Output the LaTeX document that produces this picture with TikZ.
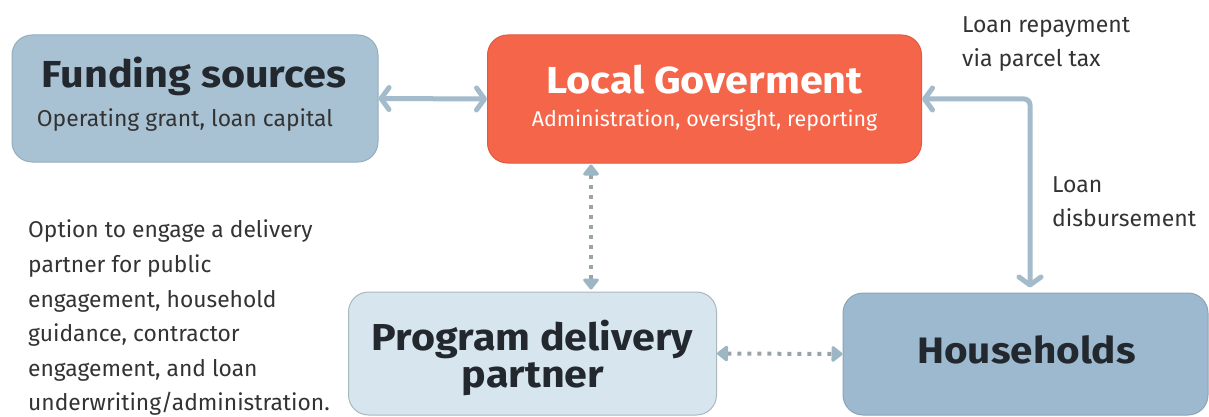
\documentclass[tikz,border=0pt]{standalone}
\usepackage{fontspec}
\setmainfont{Fira Sans}
\newfontfamily\headfont[FakeStretch=1.1]{Fira Sans}
\usetikzlibrary{arrows.meta}
\definecolor{fundc}{HTML}{A8C2D4}
\definecolor{fundb}{HTML}{94AEBE}
\definecolor{locc}{HTML}{F4654A}
\definecolor{locb}{HTML}{E05A42}
\definecolor{progc}{HTML}{D6E5EE}
\definecolor{progb}{HTML}{A9B7BF}
\definecolor{hhc}{HTML}{9CB9CF}
\definecolor{hhb}{HTML}{8CA4B5}
\definecolor{headtxt}{HTML}{22282D}
\definecolor{bodytxt}{HTML}{333333}
\definecolor{arrc}{HTML}{A3BBCB}
\definecolor{dotc}{HTML}{9AA3A8}
\definecolor{tric}{HTML}{9DB6C4}
\begin{document}
\begin{tikzpicture}[x=1pt,y=-1pt,
  box/.style={rectangle, rounded corners=20pt, line width=1pt, inner sep=0pt},
  headtext/.style={anchor=base, inner sep=0pt, text=headtxt, font=\headfont\fontsize{37.6}{44}\selectfont\bfseries},
  subtext/.style={anchor=base, inner sep=0pt, text=bodytxt, font=\fontsize{22.9}{27}\selectfont},
  notetext/.style={anchor=north west, inner sep=0pt, align=left, text=bodytxt, font=\fontsize{22.8}{34.6}\selectfont},
  solidarr/.style={draw=arrc, line width=5pt, {Straight Barb[length=8pt,width=22pt,round]}-{Straight Barb[length=8pt,width=22pt,round]}},
  dotarr/.style={draw=dotc, line width=4pt, dash pattern=on 4pt off 6pt, {Triangle[length=12pt,width=18pt,round,color=tric,fill=tric]}-{Triangle[length=12pt,width=18pt,round,color=tric,fill=tric]}}
]
\useasboundingbox (0,0) rectangle (1209,417);
% boxes
\node[box, fill=fundc, draw=fundb, minimum width=366pt, minimum height=127pt] (fund) at (195,98.5) {};
\node[box, fill=locc, draw=locb, minimum width=434pt, minimum height=128pt] (loc) at (704.5,99) {};
\node[box, fill=progc, draw=progb, minimum width=368pt, minimum height=123pt] (prog) at (532.5,353.5) {};
\node[box, fill=hhc, draw=hhb, minimum width=365pt, minimum height=122pt] (hh) at (1025.5,354) {};
% texts in boxes
\node[headtext] (fundh) at (194,88) {Funding sources};
\node[subtext] (funds) at (185,126) {Operating grant, loan capital};
\node[headtext, text=white] (loch) at (704.5,94) {Local Goverment};
\node[subtext, text=white, font=\fontsize{21.4}{26}\selectfont] (locs) at (704.5,126) {Administration, oversight, reporting};
\node[headtext, font=\headfont\fontsize{37.5}{44}\selectfont\bfseries] (progh) at (532.5,350) {Program delivery};
\node[headtext, font=\headfont\fontsize{37.5}{44}\selectfont\bfseries] (progh2) at (533,387) {partner};
\node[headtext, font=\headfont\fontsize{36.8}{44}\selectfont\bfseries] (hhh) at (1026.5,363) {Households};
% notes
\node[notetext] (note) at (28,220) {Option to engage a delivery\\partner for public\\engagement, household\\guidance, contractor\\engagement, and loan\\underwriting/administration.};
\node[notetext, font=\fontsize{23}{34}\selectfont] (repay) at (962,16) {Loan repayment\\via parcel tax};
\node[notetext, font=\fontsize{23}{34}\selectfont] (disb) at (1052,176) {Loan\\disbursement};
% connectors
\coordinate (bend) at (1030,99);
\coordinate (dv) at (591,0);
\draw[solidarr] (fund.east) -- (loc.west);
\draw[solidarr, rounded corners=6pt, shorten >=5pt] (loc.east) -- (bend) -- (bend |- hh.north);
\draw[dotarr, shorten <=1pt, shorten >=2pt] (loc.south -| dv) -- (prog.north -| dv);
\draw[dotarr] (prog.east) -- (hh.west);
\end{tikzpicture}
\end{document}
